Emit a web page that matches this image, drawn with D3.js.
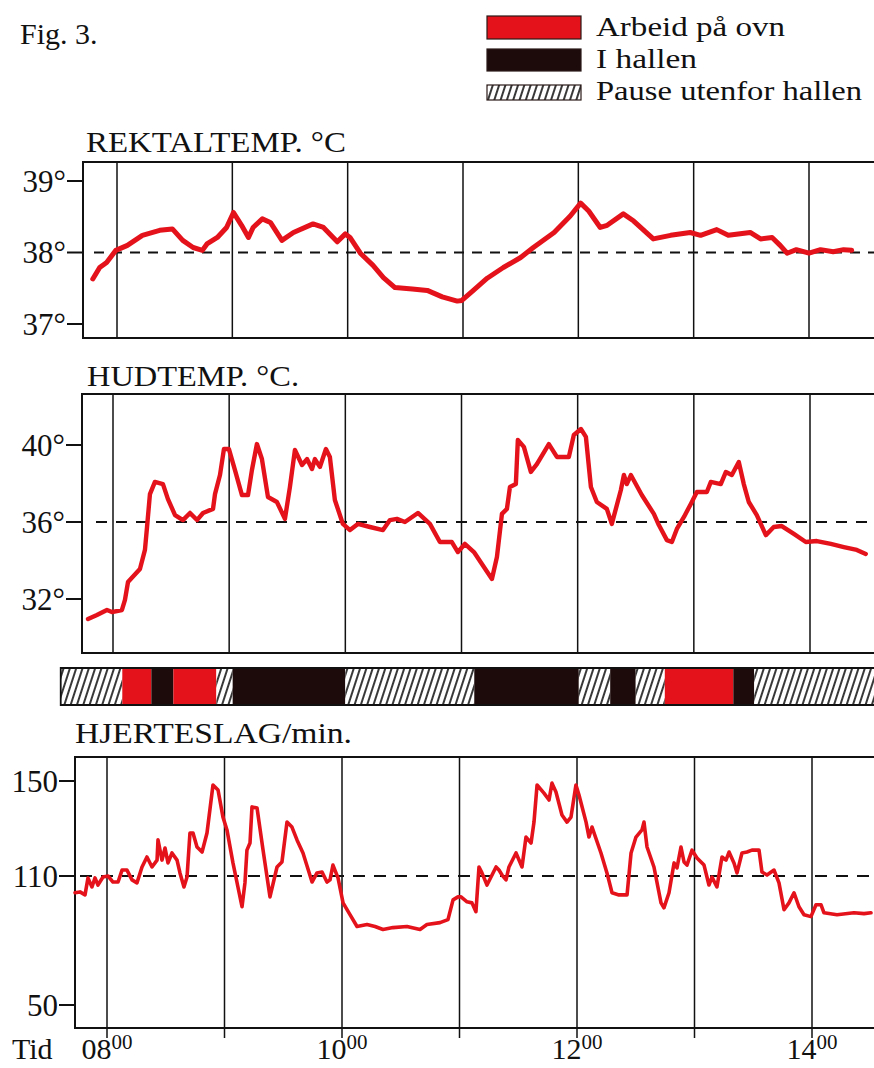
<!DOCTYPE html>
<html>
<head>
<meta charset="utf-8">
<script src="https://cdn.jsdelivr.net/npm/d3@7"></script>
<style>
  html, body { margin: 0; padding: 0; background: #fff; }
  svg { display: block; font-family: "Liberation Serif", "DejaVu Serif", serif; }
</style>
</head>
<body>
<script>
// ---------- DATA (time in decimal hours, value) ----------
const hourTicks = [8, 9, 10, 11, 12, 13, 14];
const hourLabels = [[8, "08"], [10, "10"], [12, "12"], [14, "14"]];

const rektalTicks = [37, 38, 39];
const rektalRef = 38;
const rektalData = [
  [7.79,37.63],[7.85,37.79],[7.91,37.86],[7.99,38.03],[8.09,38.10],[8.22,38.24],[8.37,38.31],[8.48,38.33],
  [8.57,38.17],[8.66,38.07],[8.74,38.03],[8.78,38.12],[8.87,38.21],[8.95,38.35],[9.01,38.56],[9.08,38.38],
  [9.14,38.21],[9.18,38.35],[9.26,38.47],[9.33,38.42],[9.43,38.17],[9.53,38.28],[9.70,38.40],[9.79,38.35],
  [9.91,38.15],[9.98,38.26],[10.02,38.21],[10.11,37.99],[10.22,37.82],[10.31,37.65],[10.41,37.51],[10.56,37.49],
  [10.69,37.47],[10.82,37.38],[10.95,37.32],[10.99,37.33],[11.09,37.47],[11.21,37.64],[11.35,37.79],[11.50,37.93],
  [11.61,38.07],[11.79,38.28],[11.93,38.51],[12.02,38.69],[12.09,38.58],[12.19,38.35],[12.25,38.38],[12.39,38.54],
  [12.48,38.44],[12.65,38.19],[12.80,38.24],[12.97,38.28],[13.06,38.24],[13.20,38.32],[13.30,38.24],[13.49,38.28],
  [13.58,38.19],[13.68,38.21],[13.75,38.10],[13.81,37.99],[13.89,38.04],[14.00,37.99],[14.10,38.04],[14.21,38.01],
  [14.30,38.04],[14.37,38.03]
];

const hudTicks = [32, 36, 40];
const hudRef = 36;
const hudData = [
  [7.785,30.96],[7.862,31.17],[7.948,31.43],[7.991,31.32],[8.077,31.43],[8.103,31.95],[8.129,32.88],[8.232,33.56],
  [8.275,34.55],[8.293,35.74],[8.318,37.45],[8.361,38.08],[8.430,37.97],[8.473,37.19],[8.534,36.36],[8.602,36.10],
  [8.663,36.47],[8.723,36.10],[8.775,36.47],[8.861,36.68],[8.878,37.45],[8.921,38.44],[8.955,39.79],[8.998,39.79],
  [9.050,38.70],[9.110,37.40],[9.162,37.40],[9.196,38.70],[9.239,40.05],[9.282,39.27],[9.334,37.30],[9.411,37.04],
  [9.480,36.16],[9.523,37.82],[9.566,39.74],[9.627,38.96],[9.670,39.27],[9.713,38.75],[9.738,39.27],[9.781,38.86],
  [9.833,39.79],[9.867,39.38],[9.910,37.14],[9.979,35.90],[10.040,35.58],[10.108,35.90],[10.212,35.74],[10.324,35.58],
  [10.384,36.10],[10.444,36.16],[10.513,36.00],[10.625,36.47],[10.728,35.90],[10.814,34.96],[10.917,34.96],[10.969,34.44],
  [11.029,34.86],[11.107,34.44],[11.193,33.66],[11.262,33.04],[11.305,34.18],[11.348,36.42],[11.391,36.68],[11.417,37.82],
  [11.468,37.97],[11.485,40.26],[11.537,39.90],[11.597,38.60],[11.649,39.01],[11.752,40.05],[11.821,39.38],[11.924,39.38],
  [11.967,40.52],[12.028,40.83],[12.071,40.42],[12.114,37.82],[12.165,37.04],[12.251,36.68],[12.294,35.90],[12.372,37.66],
  [12.398,38.44],[12.423,37.97],[12.458,38.44],[12.552,37.40],[12.656,36.42],[12.699,35.84],[12.768,35.06],[12.811,34.96],
  [12.854,35.64],[12.915,36.26],[12.974,36.94],[13.026,37.56],[13.112,37.56],[13.146,38.08],[13.232,37.97],[13.276,38.60],
  [13.327,38.44],[13.387,39.12],[13.430,37.97],[13.473,37.04],[13.542,36.36],[13.620,35.32],[13.688,35.74],[13.757,35.79],
  [13.861,35.38],[13.964,34.96],[14.059,35.01],[14.179,34.86],[14.291,34.70],[14.403,34.55],[14.480,34.34]
];

const pulsTicks = [50, 110, 150];
const pulsRef = 110;
const pulsData = [
  [7.728,102.2],[7.770,102.6],[7.813,101.2],[7.838,109.1],[7.872,104.9],[7.898,109.1],[7.923,105.8],[7.966,109.5],
  [8.009,110.0],[8.051,107.2],[8.094,107.2],[8.128,112.5],[8.170,112.5],[8.213,108.2],[8.255,106.8],[8.298,113.8],
  [8.340,118.0],[8.383,113.8],[8.426,116.7],[8.434,125.2],[8.468,116.7],[8.494,121.8],[8.519,115.5],[8.553,119.7],
  [8.596,116.7],[8.621,111.3],[8.655,104.9],[8.681,109.5],[8.706,128.1],[8.732,128.1],[8.766,122.2],[8.809,120.1],
  [8.851,128.1],[8.902,148.3],[8.945,146.2],[8.987,134.8],[9.021,129.4],[9.072,115.5],[9.149,95.7],[9.174,106.8],
  [9.191,120.9],[9.217,123.9],[9.234,139.1],[9.277,138.6],[9.328,120.9],[9.387,100.3],[9.447,113.8],[9.489,115.9],
  [9.532,132.7],[9.574,130.6],[9.617,125.2],[9.668,119.7],[9.745,107.2],[9.787,111.3],[9.830,111.7],[9.872,107.2],
  [9.898,108.2],[9.923,114.6],[9.966,109.1],[10.009,97.5],[10.068,92.0],[10.128,86.5],[10.213,87.4],[10.281,86.5],
  [10.349,85.1],[10.434,86.0],[10.553,86.5],[10.664,85.1],[10.723,87.4],[10.834,88.3],[10.902,89.7],[10.945,98.9],
  [10.987,100.3],[11.013,100.3],[11.064,98.0],[11.106,97.5],[11.140,93.4],[11.166,113.8],[11.191,111.3],[11.234,105.8],
  [11.311,113.8],[11.336,112.5],[11.362,110.4],[11.396,108.2],[11.421,113.8],[11.481,119.7],[11.532,113.8],[11.566,126.4],
  [11.609,123.9],[11.634,132.7],[11.660,148.3],[11.719,144.9],[11.762,142.0],[11.787,149.1],[11.821,145.4],[11.872,135.7],
  [11.915,132.7],[11.949,134.8],[11.991,148.3],[12.017,144.1],[12.077,132.7],[12.102,126.4],[12.128,130.6],[12.204,119.7],
  [12.255,111.3],[12.298,102.2],[12.357,101.2],[12.426,101.2],[12.460,119.7],[12.502,126.4],[12.553,129.4],[12.570,132.7],
  [12.596,122.2],[12.655,113.8],[12.715,97.5],[12.740,95.2],[12.783,102.2],[12.826,115.5],[12.851,113.4],[12.885,122.2],
  [12.911,115.9],[12.936,114.6],[12.979,120.9],[13.021,117.6],[13.081,114.6],[13.123,105.8],[13.149,109.5],[13.191,104.9],
  [13.234,118.0],[13.268,116.7],[13.294,120.1],[13.336,115.5],[13.362,111.3],[13.404,119.7],[13.447,120.1],[13.489,120.9],
  [13.549,120.9],[13.574,111.7],[13.617,110.4],[13.677,112.5],[13.719,106.8],[13.762,94.3],[13.804,97.5],[13.847,102.2],
  [13.889,95.7],[13.932,92.0],[13.991,91.1],[14.034,96.6],[14.077,96.6],[14.102,92.9],[14.213,92.0],[14.357,92.9],
  [14.443,92.5],[14.502,92.9]
];

// activity periods: start times, type; each ends where the next starts
const actStart = [7.55, 8.08, 8.33, 8.52, 8.89, 9.03, 10.00, 11.11, 12.01, 12.28, 12.50, 12.75, 13.34, 13.52];
const actEnd = 14.60;
const actType = ["pause","ovn","hall","ovn","pause","hall","pause","hall","pause","hall","pause","ovn","hall","pause"];

const legendKeys = ["ovn", "hall", "pause"];
const legendLabels = ["Arbeid på ovn", "I hallen", "Pause utenfor hallen"];

// ---------- DRAW ----------
const W = 874, H = 1068;
const RED = "#e4121b", INK = "#111", DARK = "#1c0b0a";
const svg = d3.select("body").append("svg").attr("width", W).attr("height", H);

const defs = svg.append("defs");
const pat = defs.append("pattern").attr("id", "hatch")
  .attr("patternUnits", "userSpaceOnUse").attr("width", 6).attr("height", 12)
  .attr("patternTransform", "rotate(18)");
pat.append("rect").attr("width", 6).attr("height", 12).attr("fill", "#fff");
pat.append("line").attr("x1", 3).attr("x2", 3).attr("y1", -2).attr("y2", 14)
  .attr("stroke", "#151515").attr("stroke-width", 1.7);

const fillFor = t => t === "ovn" ? RED : t === "hall" ? DARK : "url(#hatch)";

// Fig label
svg.append("text").attr("x", 20).attr("y", 44).attr("font-size", 30).attr("fill", INK).text("Fig. 3.");

// Legend
const leg = svg.append("g");
const legY = [[16, 23], [49, 22], [85, 15]];
const legBase = [36, 68, 100];
const legLen = [189, 101, 266];
legendKeys.forEach((k, i) => {
  leg.append("rect").attr("x", 487).attr("y", legY[i][0]).attr("width", 94).attr("height", legY[i][1])
    .attr("fill", fillFor(k)).attr("stroke", "#2a1a18").attr("stroke-width", 1.2);
  leg.append("text").attr("x", 596).attr("y", legBase[i]).attr("font-size", 28).attr("fill", INK)
    .attr("textLength", legLen[i]).attr("lengthAdjust", "spacingAndGlyphs")
    .text(legendLabels[i]);
});

const panels = [
  { data: rektalData, ticks: rektalTicks, ref: rektalRef, title: "REKTALTEMP. °C",
    titleX: 86, titleY: 152, titleLen: 260,
    x: d3.scaleLinear().domain([8, 14]).range([117, 809]),
    y: d3.scaleLinear().domain([37, 39]).range([324, 181]),
    left: 83, top: 162, bottom: 338, sw: 5, dashStart: 94, dash: "10,8", gridExt: 0 },
  { data: hudData, ticks: hudTicks, ref: hudRef, title: "HUDTEMP. °C.",
    titleX: 87, titleY: 386, titleLen: 212,
    x: d3.scaleLinear().domain([8, 14]).range([113, 810]),
    y: d3.scaleLinear().domain([32, 40]).range([599, 445]),
    left: 82, top: 394, bottom: 653, sw: 4.4, dashStart: 96, dash: "11,9", gridExt: 0 },
  { data: pulsData, ticks: pulsTicks, ref: pulsRef, title: "HJERTESLAG/min.",
    titleX: 75, titleY: 743, titleLen: 277,
    x: d3.scaleLinear().domain([8, 14]).range([107, 812]),
    y: d3.scaleLinear().domain([50, 110, 150]).range([1005, 876, 781]),
    left: 75, top: 757, bottom: 1028, sw: 3.6, dashStart: 80, dash: "12,9", gridExt: 10 }
];

panels.forEach(p => {
  const g = svg.append("g");
  // title
  g.append("text").attr("x", p.titleX).attr("y", p.titleY).attr("font-size", 30).attr("fill", INK)
    .attr("textLength", p.titleLen).attr("lengthAdjust", "spacingAndGlyphs").text(p.title);
  // hour grid lines
  g.selectAll("line.grid").data(hourTicks).join("line").attr("class", "grid")
    .attr("x1", d => p.x(d)).attr("x2", d => p.x(d))
    .attr("y1", p.top).attr("y2", p.bottom + p.gridExt)
    .attr("stroke", INK).attr("stroke-width", 1.5);
  // box (right side runs off the page)
  g.append("path")
    .attr("d", `M${W + 5},${p.top}H${p.left}V${p.bottom}H${W + 5}`)
    .attr("fill", "none").attr("stroke", INK).attr("stroke-width", 2);
  // y axis ticks and labels
  g.selectAll("line.ytick").data(p.ticks).join("line").attr("class", "ytick")
    .attr("x1", p.left - 16).attr("x2", p.left).attr("y1", d => p.y(d)).attr("y2", d => p.y(d))
    .attr("stroke", INK).attr("stroke-width", 2);
  g.selectAll("text.ylab").data(p.ticks).join("text").attr("class", "ylab")
    .attr("x", p.left - 17).attr("y", d => p.y(d)).attr("dy", "0.34em")
    .attr("text-anchor", "end").attr("font-size", 31).attr("fill", INK)
    .text(d => p === panels[2] ? String(d) : d + "°");
  // dashed reference
  g.append("line").attr("x1", p.dashStart).attr("x2", W).attr("y1", p.y(p.ref)).attr("y2", p.y(p.ref))
    .attr("stroke", INK).attr("stroke-width", 2.2).attr("stroke-dasharray", p.dash);
  // series line
  const line = d3.line().x(d => p.x(d[0])).y(d => p.y(d[1]));
  g.append("path").datum(p.data).attr("d", line)
    .attr("fill", "none").attr("stroke", RED).attr("stroke-width", p.sw)
    .attr("stroke-linejoin", "round").attr("stroke-linecap", "round");
});

// activity bar (uses middle panel's time scale)
const xa = panels[1].x;
const barTop = 668, barH = 37;
const acts = actStart.map((s, i) => ({ s, e: i < actStart.length - 1 ? actStart[i + 1] : actEnd, t: actType[i] }));
svg.append("g").selectAll("rect").data(acts).join("rect")
  .attr("x", d => xa(d.s)).attr("y", barTop)
  .attr("width", d => Math.max(0, Math.min(xa(d.e), W + 5) - xa(d.s))).attr("height", barH)
  .attr("fill", d => fillFor(d.t));
svg.append("path")
  .attr("d", `M${W + 5},${barTop}H${xa(actStart[0])}V${barTop + barH}H${W + 5}`)
  .attr("fill", "none").attr("stroke", INK).attr("stroke-width", 1.8);

// x axis labels
const xb = panels[2].x;
svg.append("text").attr("x", 12).attr("y", 1059).attr("font-size", 30).attr("fill", INK).text("Tid");
const xl = svg.append("g").selectAll("text").data(hourLabels).join("text")
  .attr("x", d => xb(d[0])).attr("y", 1059).attr("text-anchor", "middle").attr("fill", INK);
xl.append("tspan").attr("font-size", 30).text(d => d[1]);
xl.append("tspan").attr("font-size", 21).attr("dy", -10).text("00");
</script>
</body>
</html>
